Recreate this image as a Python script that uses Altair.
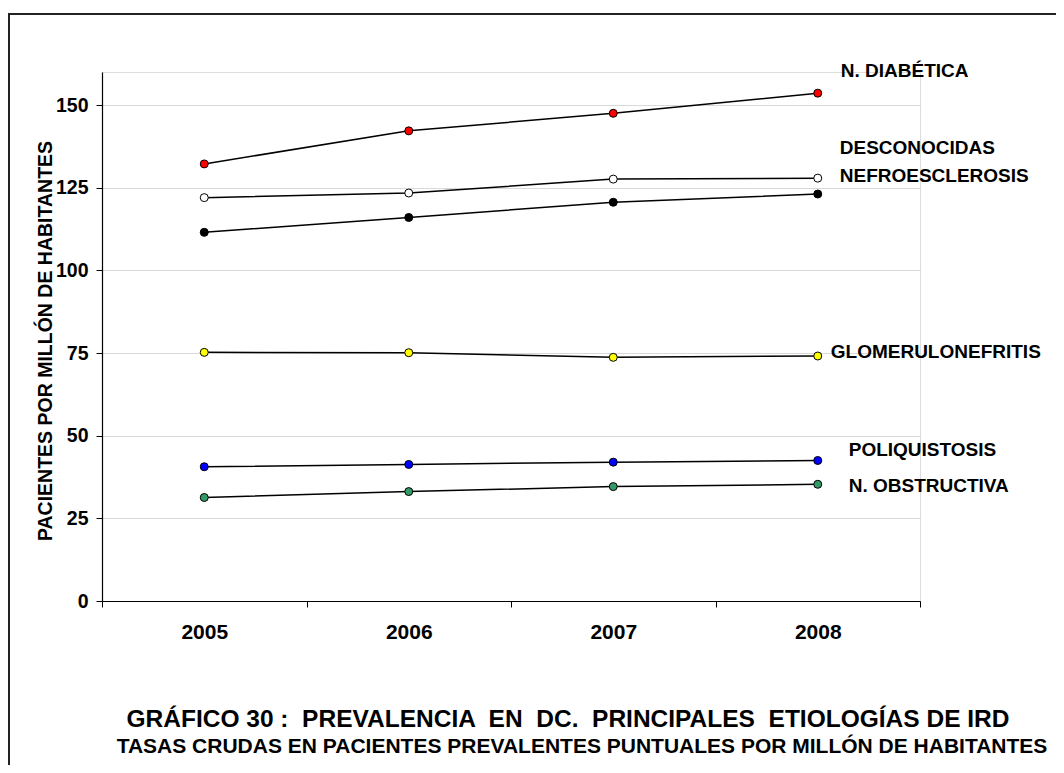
import altair as alt
import pandas as pd

years = ["2005", "2006", "2007", "2008"]
series_names = ["N. DIABÉTICA", "DESCONOCIDAS", "NEFROESCLEROSIS",
                "GLOMERULONEFRITIS", "POLIQUISTOSIS", "N. OBSTRUCTIVA"]
diabetica = [132.2, 142.2, 147.5, 153.6]
desconocidas = [122.0, 123.4, 127.6, 127.9]
nefroesclerosis = [111.5, 116.0, 120.6, 123.1]
glomerulonefritis = [75.2, 75.1, 73.7, 74.1]
poliquistosis = [40.6, 41.3, 42.0, 42.5]
obstructiva = [31.3, 33.1, 34.6, 35.3]
values = [diabetica, desconocidas, nefroesclerosis,
          glomerulonefritis, poliquistosis, obstructiva]
fills = ["#FF0000", "#FFFFFF", "#000000", "#FFFF00", "#0000FF", "#339966"]
y_ticks = [0, 25, 50, 75, 100, 125, 150]
NB = "\u00a0"
title1 = f"GRÁFICO 30 :{NB} PREVALENCIA {NB}EN {NB}DC. {NB}PRINCIPALES {NB}ETIOLOGÍAS DE IRD"
title2 = "TASAS CRUDAS EN PACIENTES PREVALENTES PUNTUALES POR MILLÓN DE HABITANTES"
y_title = "PACIENTES POR MILLÓN DE HABITANTES"

rows = []
for name, vals in zip(series_names, values):
    for yr, v in zip(years, vals):
        rows.append({"serie": name, "year": yr, "value": v})
df = pd.DataFrame(rows)

FONT = "Liberation Sans"
W, H = 818, 529

xenc = alt.X("year:N", bandPosition=0.5,
             scale=alt.Scale(type="band", domain=years, paddingInner=0, paddingOuter=0),
             axis=alt.Axis(title=None, tickBand="extent", labelAngle=0,
                           labelFont=FONT, labelFontSize=21, labelFontWeight="bold",
                           labelColor="#000", labelPadding=14, tickSize=6,
                           tickColor="#000", domainColor="#000", domainWidth=1.2,
                           grid=False))
yenc = alt.Y("value:Q",
             scale=alt.Scale(domain=[0, 160], nice=False),
             axis=alt.Axis(title=y_title, values=y_ticks, labelFont=FONT,
                           labelFontSize=19.5, labelFontWeight="bold", labelColor="#000",
                           labelPadding=8, tickSize=6, tickColor="#000",
                           domainColor="#000", domainWidth=1.2,
                           gridColor="#d9d9d9", gridWidth=1,
                           titleFont=FONT, titleFontSize=19.5, titleFontWeight="bold",
                           titleColor="#000", titleX=-57, titleY=H / 2 + 4,
                           titleAngle=270, titleAlign="center", titleBaseline="middle"))

base = alt.Chart(df)
lines = base.mark_line(color="#000", strokeWidth=1.5).encode(
    x=xenc, y=yenc, detail="serie:N")
points = base.mark_point(filled=True, size=64, stroke="#000", strokeWidth=1,
                         opacity=1).encode(
    x=alt.X("year:N", bandPosition=0.5), y="value:Q",
    fill=alt.Fill("serie:N", scale=alt.Scale(domain=series_names, range=fills),
                  legend=None))

offsets = [(23, -22), (22, -30), (22, -18), (13, -4), (31, -10), (31, 2)]
label_layers = []
for name, (dx, dy) in zip(series_names, offsets):
    sub = df[(df.serie == name) & (df.year == years[-1])]
    label_layers.append(
        alt.Chart(sub).mark_text(align="left", baseline="middle", dx=dx, dy=dy,
                                 font=FONT, fontSize=19, fontWeight="bold",
                                 color="#000").encode(
            x=alt.X("year:N", bandPosition=0.5), y="value:Q", text="serie:N"))

frame = alt.Chart(pd.DataFrame({"k": [0]})).mark_rect(
    fill=None, stroke="#222", strokeWidth=2, clip=False).encode(
    x=alt.value(-93), x2=alt.value(975), y=alt.value(-58), y2=alt.value(720))

t1 = alt.Chart(pd.DataFrame({"t": [title1]})).mark_text(
    font=FONT, fontSize=24.5, fontWeight="bold", color="#000",
    align="center", baseline="middle").encode(
    x=alt.value(466), y=alt.value(648), text="t:N")
t2 = alt.Chart(pd.DataFrame({"t": [title2]})).mark_text(
    font=FONT, fontSize=21, fontWeight="bold", color="#000",
    align="center", baseline="middle").encode(
    x=alt.value(480), y=alt.value(675), text="t:N")

chart = alt.layer(frame, lines, points, *label_layers, t1, t2).properties(
    width=W, height=H,
    autosize=alt.AutoSizeParams(type="none"),
    padding={"left": 94, "top": 64, "right": 136, "bottom": 164},
).configure_view(stroke=None).configure(background="white")

chart.save("out.html", embed_options={"renderer": "svg", "actions": False})
